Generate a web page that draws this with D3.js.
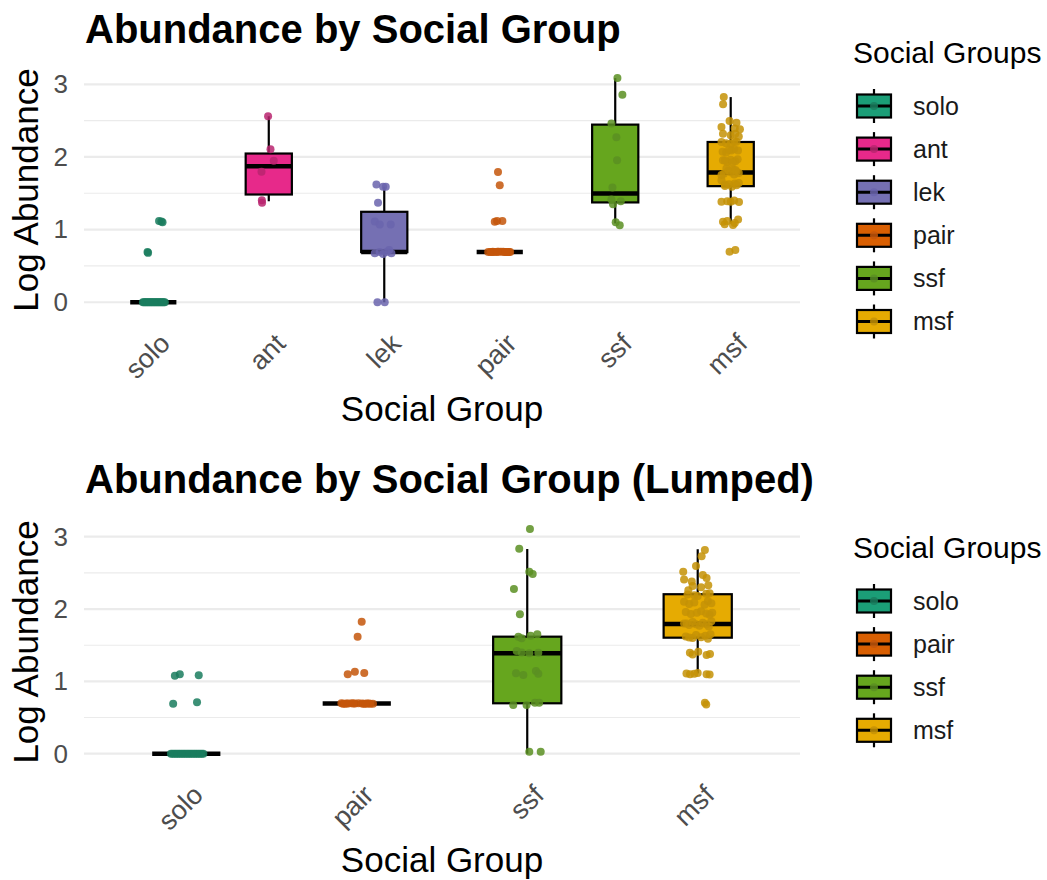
<!DOCTYPE html>
<html lang="en">
<head>
  <meta charset="UTF-8">
  <title>Abundance by Social Group</title>
  <script src="https://d3js.org/d3.v7.min.js"></script>
  <style>
    body { margin: 0; background: #fff; }
    svg { font-family: "Liberation Sans", Arial, Helvetica, sans-serif; }
  </style>
</head>
<body>
<div id="chart"></div>
<script>
  // Groups
  const topGroups = ['solo', 'ant', 'lek', 'pair', 'ssf', 'msf'];
  const lumpedGroups = ['solo', 'pair', 'ssf', 'msf'];

  // Box stats: [lower whisker, q1, median, q3, upper whisker]
  const topBoxes = [
    [0, 0, 0, 0, 0],
    [1.39, 1.483, 1.872, 2.047, 2.56],
    [0, 0.69, 0.69, 1.245, 1.59],
    [0.693, 0.693, 0.693, 0.693, 0.693],
    [1.085, 1.374, 1.497, 2.445, 3.085],
    [1.085, 1.598, 1.786, 2.206, 2.824]
  ];
  const lumpedBoxes = [
    [0, 0, 0, 0, 0],
    [0.693, 0.693, 0.693, 0.693, 0.693],
    [0, 0.697, 1.389, 1.618, 2.83],
    [1.11, 1.604, 1.794, 2.205, 2.827]
  ];

  // Jittered points: [log abundance, horizontal jitter in category units]
  const soloTop = [
    [1.12, 0.05], [1.10, 0.08], [1.11, 0.07], [0.69, -0.05], [0.68, -0.045],
    [0, -0.09], [0, 0.03], [0, -0.04], [0, 0.07], [0, -0.07], [0, 0.01], [0, 0.05],
    [0, -0.02], [0, 0.09], [0, -0.06], [0, 0.02], [0, -0.08], [0, 0.06], [0, -0.01],
    [0, 0.04], [0, -0.05], [0, 0.08], [0, 0.0], [0, -0.03], [0, 0.1]
  ];
  const antTop = [
    [2.56, -0.006], [2.106, 0.015], [1.946, 0.043], [1.795, -0.063], [1.405, -0.06], [1.37, -0.058]
  ];
  const lekTop = [
    [1.62, -0.068], [1.59, -0.01], [1.59, 0.013], [1.37, -0.054],
    [1.11, -0.082], [1.07, -0.039], [1.07, 0.056],
    [0.675, -0.082], [0.665, -0.01], [0.675, 0.062], [0.72, 0.042], [0.69, 0.02], [0.69, -0.04],
    [0, -0.059], [0, 0.004]
  ];
  const pairTop = [
    [1.794, -0.015], [1.611, 0.0], [1.107, -0.043], [1.117, -0.023], [1.117, 0.023],
    [0.693, -0.1], [0.69, 0.04], [0.695, -0.06], [0.69, 0.08], [0.693, -0.03], [0.696, 0.01],
    [0.69, -0.08], [0.693, 0.06], [0.695, -0.01], [0.69, 0.09], [0.693, -0.05], [0.694, 0.03],
    [0.69, -0.07], [0.693, 0.07], [0.695, -0.02], [0.692, 0.05]
  ];
  const ssfTop = [
    [3.085, 0.019], [2.857, 0.062], [2.46, -0.033], [2.27, 0.01], [1.955, 0.016], [1.58, -0.024],
    [1.415, -0.033], [1.39, 0.048], [1.35, -0.019], [1.10, 0.004], [1.06, 0.039]
  ];
  const msfTop = [
    [0.695, -0.01], [0.72, 0.04],
    [1.107, -0.067], [1.075, -0.052], [1.062, 0.02], [1.14, 0.064], [1.09, 0.035], [1.12, -0.03],
    [1.382, -0.08], [1.39, -0.03], [1.382, 0.0], [1.38, 0.072], [1.40, 0.03],
    [1.68, -0.08], [1.62, -0.05], [1.635, 0.035], [1.60, -0.05], [1.64, 0.07], [1.59, 0.01], [1.625, -0.015], [1.61, 0.05],
    [1.84, -0.037], [1.827, 0.02], [1.80, 0.05], [1.77, -0.06], [1.79, 0.0], [1.76, 0.03], [1.81, -0.02], [1.78, 0.07], [1.75, -0.08], [1.82, 0.04],
    [1.955, -0.067], [1.96, 0.0], [1.94, 0.04], [1.93, -0.03], [1.97, 0.06], [1.92, 0.015], [1.95, -0.05],
    [2.09, 0.006], [2.09, 0.063], [2.06, -0.04], [2.11, 0.03], [2.07, -0.07], [2.10, -0.015],
    [2.206, -0.08], [2.18, 0.0], [2.21, 0.05], [2.19, -0.04], [2.22, 0.03],
    [2.32, -0.067], [2.30, 0.0], [2.32, 0.04], [2.28, 0.07],
    [2.412, -0.08], [2.39, 0.035], [2.38, 0.08],
    [2.494, -0.01], [2.47, 0.05],
    [2.724, -0.066], [2.824, -0.06]
  ];

  const soloLumped = [
    [1.079, -0.067], [1.10, -0.038], [1.084, 0.073], [0.69, -0.077], [0.71, 0.063],
    [0, -0.09], [0, 0.03], [0, -0.04], [0, 0.07], [0, -0.07], [0, 0.01], [0, 0.05],
    [0, -0.02], [0, 0.09], [0, -0.06], [0, 0.02], [0, -0.08], [0, 0.06], [0, -0.01],
    [0, 0.04], [0, -0.05], [0, 0.08], [0, 0.0], [0, -0.03], [0, 0.1]
  ];
  const pairLumped = [
    [1.826, 0.029], [1.618, 0.005], [1.098, -0.053], [1.134, -0.011], [1.116, 0.044],
    [0.697, -0.09], [0.69, 0.04], [0.695, -0.06], [0.69, 0.08], [0.697, -0.03], [0.696, 0.01],
    [0.69, -0.08], [0.693, 0.06], [0.695, -0.01], [0.69, 0.095], [0.693, -0.05], [0.694, 0.03],
    [0.69, -0.07], [0.693, 0.07], [0.695, -0.02], [0.692, 0.05]
  ];
  const ssfLumped = [
    [3.108, 0.016], [2.835, -0.047], [2.517, 0.012], [2.485, 0.032], [2.278, -0.078], [1.928, -0.043],
    [1.618, -0.052], [1.596, -0.033], [1.632, 0.02], [1.651, 0.059],
    [1.42, -0.062], [1.40, -0.033], [1.389, 0.012], [1.397, 0.065],
    [1.112, -0.066], [1.089, -0.023], [1.144, 0.051], [1.107, 0.065],
    [0.674, -0.082], [0.674, -0.004], [0.705, 0.045], [0.705, 0.07],
    [0.028, 0.012], [0.028, 0.079]
  ];
  const msfLumped = [
    [0.705, 0.042], [0.68, 0.05],
    [1.11, -0.066], [1.10, -0.045], [1.105, -0.02], [1.115, 0.0], [1.10, 0.052], [1.095, 0.07],
    [1.397, -0.046], [1.41, 0.003], [1.365, 0.052], [1.38, 0.072], [1.37, -0.03],
    [1.62, -0.07], [1.60, -0.03], [1.64, -0.01], [1.61, 0.02], [1.63, 0.045], [1.59, 0.06], [1.65, 0.075], [1.605, -0.05],
    [1.80, -0.08], [1.78, -0.05], [1.82, -0.03], [1.79, -0.01], [1.77, 0.01], [1.81, 0.03], [1.79, 0.05], [1.76, 0.065], [1.83, 0.08], [1.80, -0.065],
    [1.96, -0.07], [1.93, -0.04], [1.95, -0.005], [1.97, 0.02], [1.94, 0.05], [1.92, 0.07], [1.95, 0.085],
    [2.10, -0.08], [2.07, -0.05], [2.09, -0.02], [2.06, 0.04], [2.11, 0.06], [2.08, 0.08],
    [2.22, 0.07], [2.20, -0.06], [2.18, 0.0], [2.21, 0.05], [2.19, -0.02],
    [2.33, 0.062], [2.26, -0.055], [2.30, 0.02], [2.32, -0.03],
    [2.41, -0.08], [2.38, -0.035], [2.43, 0.052],
    [2.517, -0.085], [2.47, 0.03], [2.596, -0.01],
    [2.73, 0.023], [2.817, 0.042]
  ];

  const yTicks = [0, 1, 2, 3];
  const yMinor = [0.5, 1.5, 2.5];

  const fillColor = {
    solo: '#1B9E77', ant: '#E7298A', lek: '#7570B3',
    pair: '#D95F02', ssf: '#66A61E', msf: '#E6AB02'
  };
  const pointColor = {
    solo: '#1a7d5e', ant: '#b8246f', lek: '#6a64ad',
    pair: '#c4560a', ssf: '#5a8f22', msf: '#c49206'
  };

  const width = 1047;
  const height = 880;
  const left = 84, right = 800;

  const svg = d3.select('#chart').append('svg')
    .attr('width', width)
    .attr('height', height);

  function drawPanel(opt) {
    const g = svg.append('g').attr('transform', `translate(0,${opt.offset})`);

    const x = d3.scalePoint().domain(opt.groups).range([left, right]).padding(0.6);
    const y = d3.scaleLinear().domain([-0.155, 3.245]).range([opt.bottom, opt.top]);
    const step = x.step();
    const boxW = step * 0.4;

    // grid
    g.append('g').selectAll('line').data(yMinor).join('line')
      .attr('x1', left).attr('x2', right)
      .attr('y1', d => y(d)).attr('y2', d => y(d))
      .attr('stroke', '#ebebeb').attr('stroke-width', 1.1);
    g.append('g').selectAll('line').data(yTicks).join('line')
      .attr('x1', left).attr('x2', right)
      .attr('y1', d => y(d)).attr('y2', d => y(d))
      .attr('stroke', '#ebebeb').attr('stroke-width', 2.2);

    // axes
    const yAxis = g.append('g')
      .attr('transform', `translate(${left},0)`)
      .call(d3.axisLeft(y).tickValues(yTicks).tickFormat(d3.format('d')).tickSize(0).tickPadding(16));
    yAxis.select('.domain').remove();
    yAxis.selectAll('text')
      .attr('font-size', 26).attr('fill', '#4d4d4d')
      .attr('font-family', '"Liberation Sans", Arial, sans-serif');

    const xAxis = g.append('g')
      .attr('transform', `translate(0,${opt.bottom})`)
      .call(d3.axisBottom(x).tickSize(0));
    xAxis.select('.domain').remove();
    xAxis.selectAll('text')
      .attr('font-size', 27).attr('fill', '#4d4d4d')
      .attr('font-family', '"Liberation Sans", Arial, sans-serif')
      .attr('text-anchor', 'end')
      .attr('x', 0).attr('y', 0).attr('dy', '0.72em')
      .attr('transform', 'translate(4,18) rotate(-45)');

    // boxes
    const boxes = g.append('g').selectAll('g')
      .data(opt.groups.map((k, i) => ({ key: k, s: opt.boxes[i] })))
      .join('g');

    boxes.append('line')
      .attr('x1', d => x(d.key)).attr('x2', d => x(d.key))
      .attr('y1', d => y(d.s[0])).attr('y2', d => y(d.s[4]))
      .attr('stroke', '#000').attr('stroke-width', 2.2);
    boxes.append('rect')
      .attr('x', d => x(d.key) - boxW / 2)
      .attr('width', boxW)
      .attr('y', d => y(d.s[3]))
      .attr('height', d => y(d.s[1]) - y(d.s[3]))
      .attr('fill', d => fillColor[d.key])
      .attr('stroke', '#000').attr('stroke-width', 2.2);
    boxes.append('line')
      .attr('x1', d => x(d.key) - boxW / 2).attr('x2', d => x(d.key) + boxW / 2)
      .attr('y1', d => y(d.s[2])).attr('y2', d => y(d.s[2]))
      .attr('stroke', '#000').attr('stroke-width', 4.5);

    // jittered points
    opt.groups.forEach((k, i) => {
      g.append('g').selectAll('circle')
        .data(opt.points[i])
        .join('circle')
        .attr('cx', d => x(k) + d[1] * step)
        .attr('cy', d => y(d[0]))
        .attr('r', 4)
        .attr('fill', pointColor[k])
        .attr('fill-opacity', 0.85);
    });

    // titles
    g.append('text')
      .attr('x', 85).attr('y', opt.titleY)
      .attr('font-size', 40).attr('font-weight', 'bold')
      .text(opt.title);
    g.append('text')
      .attr('x', (left + right) / 2).attr('y', opt.bottom + 107)
      .attr('text-anchor', 'middle')
      .attr('font-size', 35)
      .text('Social Group');
    g.append('text')
      .attr('transform', `translate(38,${(opt.top + opt.bottom) / 2}) rotate(-90)`)
      .attr('text-anchor', 'middle')
      .attr('font-size', 35)
      .text('Log Abundance');

    // legend
    const lg = g.append('g');
    lg.append('text')
      .attr('x', 853).attr('y', opt.legendY)
      .attr('font-size', 30)
      .text('Social Groups');
    const keys = lg.selectAll('g.key').data(opt.groups).join('g')
      .attr('class', 'key')
      .attr('transform', (d, i) => `translate(874,${opt.legendY + 43 + i * 43.1})`);
    keys.append('line')
      .attr('x1', 0).attr('x2', 0).attr('y1', -17).attr('y2', 17)
      .attr('stroke', '#000').attr('stroke-width', 2.2);
    keys.append('rect')
      .attr('x', -17).attr('y', -11.5).attr('width', 34).attr('height', 23)
      .attr('fill', d => fillColor[d])
      .attr('stroke', '#000').attr('stroke-width', 2.2);
    keys.append('line')
      .attr('x1', -17).attr('x2', 17).attr('y1', 0).attr('y2', 0)
      .attr('stroke', '#000').attr('stroke-width', 3);
    keys.append('circle')
      .attr('r', 4)
      .attr('fill', d => pointColor[d]).attr('fill-opacity', 0.85);
    keys.append('text')
      .attr('x', 39).attr('y', 0).attr('dy', '0.35em')
      .attr('font-size', 25).attr('fill', '#1a1a1a')
      .text(d => d);
  }

  drawPanel({
    offset: 0, groups: topGroups, boxes: topBoxes,
    points: [soloTop, antTop, lekTop, pairTop, ssfTop, msfTop],
    top: 66.5, bottom: 313.5, titleY: 43, legendY: 63,
    title: 'Abundance by Social Group'
  });

  drawPanel({
    offset: 451.4, groups: lumpedGroups, boxes: lumpedBoxes,
    points: [soloLumped, pairLumped, ssfLumped, msfLumped],
    top: 67.6, bottom: 313.5, titleY: 42, legendY: 106.6,
    title: 'Abundance by Social Group (Lumped)'
  });
</script>
</body>
</html>
